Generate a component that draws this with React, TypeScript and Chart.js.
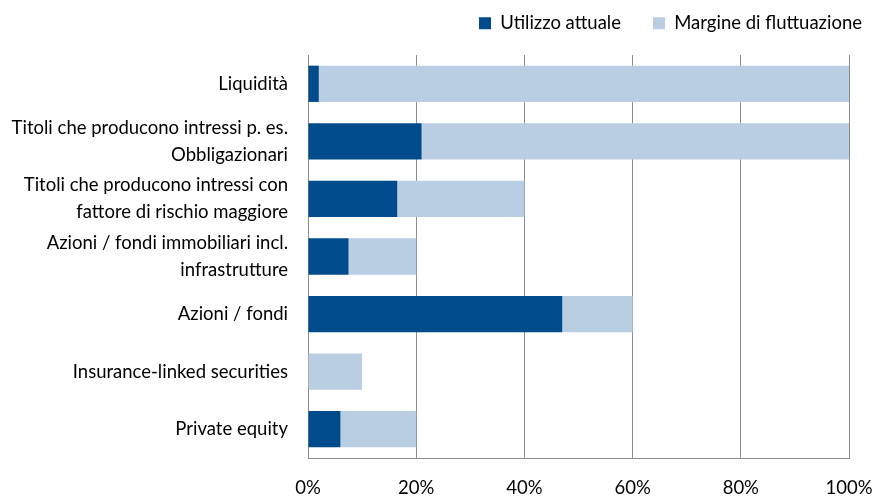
import React, { useEffect, useRef } from "react";
import { Chart, registerables } from "chart.js";

Chart.register(...registerables);

const categories: string[][] = [
  ["Liquidità"],
  ["Titoli che producono intressi p. es.", "Obbligazionari"],
  ["Titoli che producono intressi con", "fattore di rischio maggiore"],
  ["Azioni / fondi immobiliari incl.", "infrastrutture"],
  ["Azioni / fondi"],
  ["Insurance-linked securities"],
  ["Private equity"],
];
const utilizzoAttuale = [2, 21, 16.5, 7.5, 47, 0, 6];
const margineFluttuazione = [98, 79, 23.5, 12.5, 13, 10, 14];
const xTicks = [0, 20, 40, 60, 80, 100];

const FONT = "Lato, 'Noto Sans', sans-serif";
const LEGEND_PAD = 32;

const legendHeightPlugin = {
  id: "legendHeight",
  beforeInit(chart: any) {
    const legend = chart.legend;
    if (!legend) return;
    const fit = legend.fit;
    legend.fit = function () {
      fit.call(this);
      this.height = 51;
    };
  },
  afterLayout(chart: any) {
    const legend = chart.legend;
    if (!legend) return;
    const shift = LEGEND_PAD - 10;
    legend.top -= shift;
    legend.right += shift;
  },
};

export default function App() {
  const ref = useRef<HTMLCanvasElement | null>(null);
  useEffect(() => {
    document.body.style.margin = "0";
    const ctx = ref.current!;
    const chart = new Chart(ctx, {
      type: "bar",
      plugins: [legendHeightPlugin],
      data: {
        labels: categories,
        datasets: [
          {
            label: "Utilizzo attuale",
            data: utilizzoAttuale,
            backgroundColor: "#004b8c",
            barPercentage: 0.63,
            categoryPercentage: 1,
          },
          {
            label: "Margine di fluttuazione",
            data: margineFluttuazione,
            backgroundColor: "#b9cde3",
            barPercentage: 0.63,
            categoryPercentage: 1,
          },
        ],
      },
      options: {
        indexAxis: "y",
        animation: false,
        responsive: false,
        maintainAspectRatio: false,
        layout: { padding: { left: 8, right: 3, top: 4, bottom: 0 } },
        plugins: {
          tooltip: { enabled: false },
          legend: {
            position: "top",
            align: "end",
            labels: {
              boxWidth: 12,
              boxHeight: 12,
              color: "#000",
              font: { family: FONT, size: 18.5 },
              padding: LEGEND_PAD,
            },
          },
        },
        scales: {
          x: {
            stacked: true,
            min: 0,
            max: 100,
            afterBuildTicks: (s: any) => {
              s.ticks = xTicks.map((v) => ({ value: v }));
            },
            afterFit: (s: any) => {
              s.height = 38;
              s.paddingRight = 26;
            },
            ticks: {
              color: "#000",
              font: { family: FONT, size: 18.5 },
              padding: 19,
              callback: (v: any) => v + "%",
            },
            grid: { color: "#8c8c8c", drawTicks: false, lineWidth: 1 },
            border: { color: "#8c8c8c" },
          },
          y: {
            stacked: true,
            afterFit: (s: any) => {
              s.width = 300;
            },
            ticks: {
              color: "#000",
              font: { family: FONT, size: 18.5, lineHeight: 1.45 },
              padding: 20,
            },
            grid: { display: false, drawTicks: false },
            border: { color: "#8c8c8c" },
          },
        },
      },
    });
    return () => chart.destroy();
  }, []);
  return (
    <div style={{ width: 875, height: 496 }}>
      <canvas ref={ref} width={875} height={496} style={{ display: "block" }} />
    </div>
  );
}
